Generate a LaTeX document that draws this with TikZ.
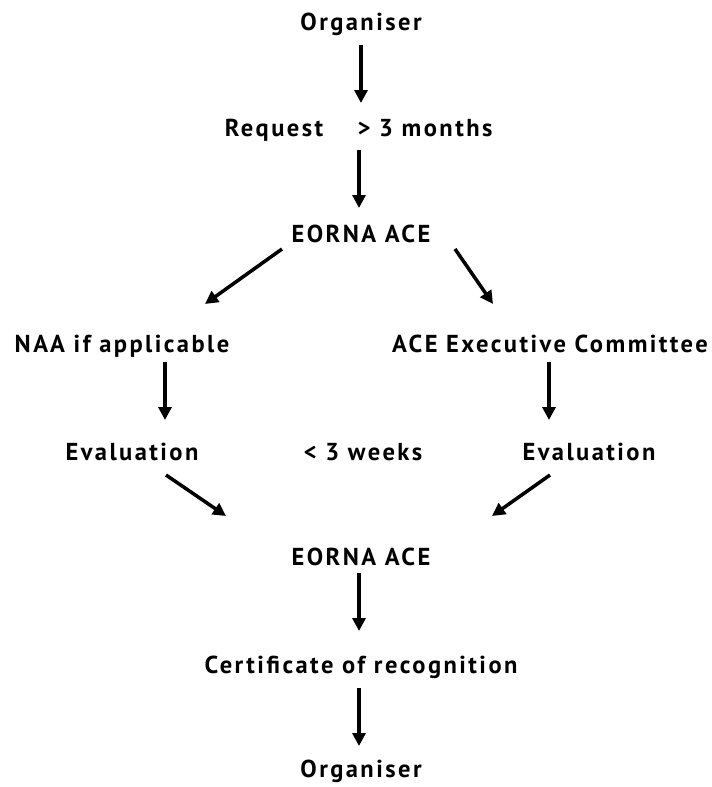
\documentclass[tikz,border=0pt]{standalone}
\usepackage{fontspec}
\setmainfont{PT Sans}[LetterSpace=10]
\usetikzlibrary{arrows.meta}
\begin{document}
\begin{tikzpicture}[x=1pt,y=-1pt,
  lbl/.style={font=\bfseries\fontsize{24.5}{28}\selectfont, inner sep=0pt, anchor=base},
  arr/.style={line width=3.5pt, -{Triangle[length=13pt,width=13pt]}}]
\useasboundingbox (0,0) rectangle (712,787);
\node[lbl] (org1) at (361,30) {Organiser};
\node[lbl] (req) at (274,136) {Request};
\node[lbl] (mon) at (425,136) {> 3 months};
\node[lbl] (eace1) at (361,242) {EORNA ACE};
\node[lbl] (naa) at (122,352) {NAA if applicable};
\node[lbl] (exec) at (550,352) {ACE Executive Committee};
\node[lbl] (eval1) at (132,460) {Evaluation};
\node[lbl] (weeks) at (363,460) {< 3 weeks};
\node[lbl] (eval2) at (589,460) {Evaluation};
\node[lbl] (eace2) at (361,565) {EORNA ACE};
\node[lbl] (cert) at (361,673) {Certificate of recognition};
\node[lbl] (org2) at (361,777) {Organiser};
\coordinate (a1s) at (361,45);  \coordinate (a1e) at (361,103);
\coordinate (a2s) at (359,150); \coordinate (a2e) at (359,208);
\coordinate (a3s) at (282,249); \coordinate (a3e) at (205,304);
\coordinate (a4s) at (455,249); \coordinate (a4e) at (493,304);
\coordinate (a5s) at (165,362); \coordinate (a5e) at (165,420);
\coordinate (a6s) at (549,362); \coordinate (a6e) at (549,420);
\coordinate (a7s) at (166,475); \coordinate (a7e) at (226,516);
\coordinate (a8s) at (550,475); \coordinate (a8e) at (492,516);
\coordinate (a9s) at (359,573); \coordinate (a9e) at (359,631);
\coordinate (a10s) at (359,688); \coordinate (a10e) at (359,746);
\draw[arr] (a1s) -- (a1e);
\draw[arr] (a2s) -- (a2e);
\draw[arr] (a3s) -- (a3e);
\draw[arr] (a4s) -- (a4e);
\draw[arr] (a5s) -- (a5e);
\draw[arr] (a6s) -- (a6e);
\draw[arr] (a7s) -- (a7e);
\draw[arr] (a8s) -- (a8e);
\draw[arr] (a9s) -- (a9e);
\draw[arr] (a10s) -- (a10e);
\end{tikzpicture}
\end{document}
